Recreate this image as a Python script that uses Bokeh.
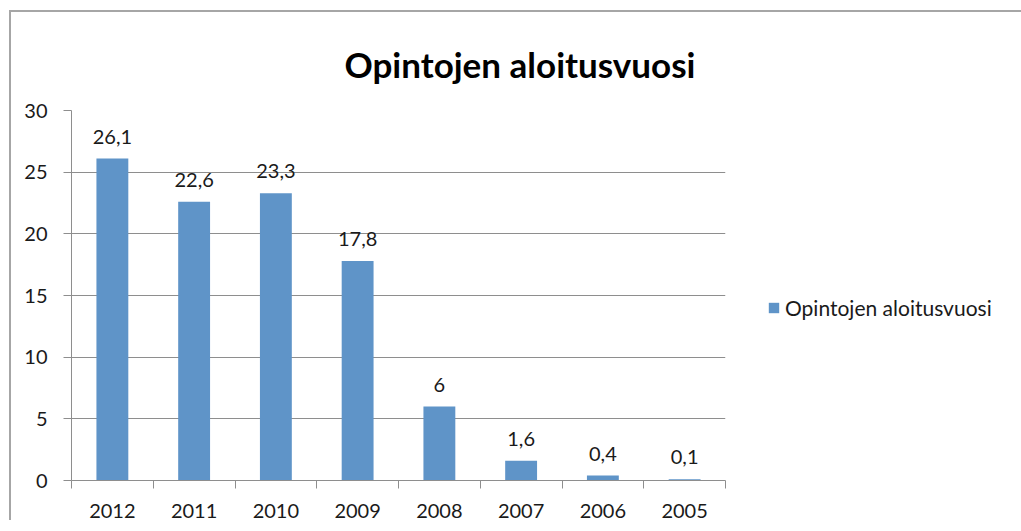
from bokeh.plotting import figure
from bokeh.models import (Range1d, LinearAxis, FixedTicker,
                          Legend, LegendItem, ColumnDataSource, SingleIntervalTicker)
from bokeh.core.properties import value
from bokeh.embed import file_html
from bokeh.resources import INLINE

years = ["2012", "2011", "2010", "2009", "2008", "2007", "2006", "2005"]
values = [26.1, 22.6, 23.3, 17.8, 6, 1.6, 0.4, 0.1]
labels = [f"{v:g}".replace(".", ",") for v in values]
series_name = "Opintojen aloitusvuosi"
title_text = "Opintojen aloitusvuosi"

FONT = "Lato"
GRAY = "#8e8e8e"
BAR = "#5f94c8"
TXT = "#1a1a1a"

n = len(years)
centers = [i + 0.5 for i in range(n)]
src = ColumnDataSource(dict(x=centers, y=values, lab=labels))

p = figure(frame_width=654, frame_height=370, x_range=Range1d(0, n),
           y_range=Range1d(0, 30), x_axis_location=None, y_axis_location=None,
           output_backend="svg", toolbar_location=None,
           min_border_left=60, min_border_right=280, min_border_top=98, min_border_bottom=40)
p.styles = {"border-left": "2px solid #a6a6a6", "border-top": "2px solid #a6a6a6",
            "margin-left": "9px", "margin-top": "10px"}

p.title.text = title_text
p.title.text_font = FONT
p.title.text_font_style = "bold"
p.title.text_font_size = "35px"
p.title.text_color = "#000000"
p.title.align = "left"
p.title.offset = 273
p.title.standoff = 52

p.outline_line_color = None
p.background_fill_color = "white"
p.border_fill_color = "white"

bars = p.vbar(x="x", top="y", width=0.39, source=src, fill_color=BAR, line_color=None)

p.text(x="x", y="y", text="lab", source=src, text_align="center", text_baseline="middle",
       y_offset=-22, text_font=value(FONT), text_font_size="20px", text_color=TXT)

# y axis
yax = LinearAxis(ticker=SingleIntervalTicker(interval=5))
yax.axis_line_color = GRAY
yax.major_tick_line_color = GRAY
yax.major_tick_out = 8
yax.major_tick_in = 0
yax.minor_tick_line_color = None
yax.major_label_text_font = FONT
yax.major_label_text_font_size = "20px"
yax.major_label_text_color = TXT
yax.major_label_standoff = 16
p.add_layout(yax, "left")

# x axis: labels at centers, ticks at boundaries (minor)
xax = LinearAxis(ticker=FixedTicker(ticks=centers, minor_ticks=list(range(n + 1))))
xax.axis_line_color = GRAY
xax.major_tick_line_color = None
xax.minor_tick_line_color = GRAY
xax.minor_tick_out = 8
xax.minor_tick_in = 0
xax.major_tick_out = 8
xax.major_tick_in = 0
xax.major_label_overrides = {c: y for c, y in zip(centers, years)}
xax.major_label_text_font = FONT
xax.major_label_text_font_size = "20px"
xax.major_label_text_color = TXT
xax.major_label_standoff = 15
p.add_layout(xax, "below")

p.ygrid.grid_line_color = GRAY
p.ygrid.grid_line_width = 1
p.xgrid.grid_line_color = None

legend = Legend(items=[LegendItem(label=series_name, renderers=[bars])],
                location=(42, 160), padding=0, margin=0, border_line_color=None,
                background_fill_alpha=0, glyph_width=13, glyph_height=13, label_standoff=5,
                label_text_font=FONT, label_text_font_size="21px", label_text_color=TXT)
p.add_layout(legend, "right")

open("out.html", "w").write(file_html(p, INLINE))
